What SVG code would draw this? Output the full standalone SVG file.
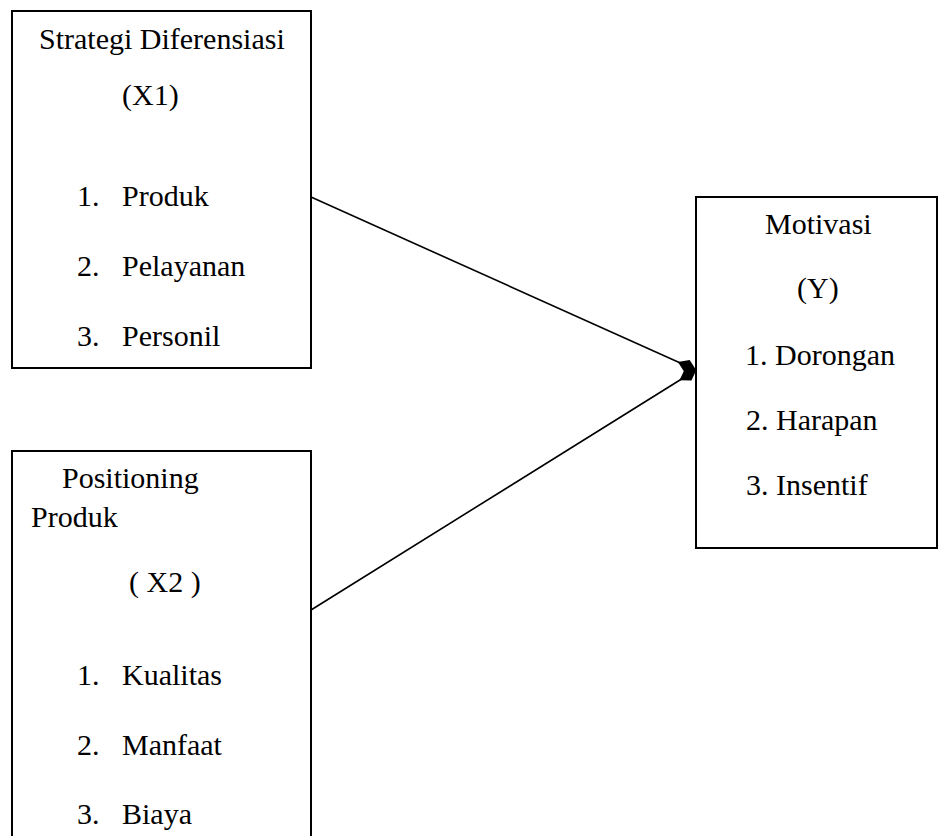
<svg xmlns="http://www.w3.org/2000/svg" width="940" height="836" viewBox="0 0 940 836">
<style>
.box{fill:#fff;stroke:#000;stroke-width:2}
.c{stroke:#000;stroke-width:1.6;fill:none}
.d{fill:#000}
text{font-family:"Liberation Serif","Times New Roman",serif;font-size:30px;fill:#000}
</style>
<defs>
<path id="dia" d="M-10,0 L0,-6.5 L10,0 L0,6.5 Z"/>
</defs>
<rect width="940" height="836" fill="#fff"/>
<g id="connectors">
<line class="c" x1="311" y1="197" x2="687" y2="366"/>
<line class="c" x1="311" y1="610" x2="688" y2="375"/>
<use href="#dia" class="d" transform="translate(687,366) rotate(24.2)"/>
<use href="#dia" class="d" transform="translate(688,375) rotate(-31.9)"/>
</g>
<g id="x1">
<rect class="box" x="12" y="11" width="299" height="357"/>
<text x="39" y="49">Strategi Diferensiasi</text>
<text x="122" y="105">(X1)</text>
<text x="77" y="206">1.</text><text x="122" y="206">Produk</text>
<text x="77" y="276">2.</text><text x="122" y="276">Pelayanan</text>
<text x="77" y="346">3.</text><text x="122" y="346">Personil</text>
</g>
<g id="x2">
<rect class="box" x="12" y="451" width="299" height="400"/>
<text x="62" y="488">Positioning</text>
<text x="31" y="527">Produk</text>
<text x="129" y="592">( X2 )</text>
<text x="77" y="685">1.</text><text x="122" y="685">Kualitas</text>
<text x="77" y="755">2.</text><text x="122" y="755">Manfaat</text>
<text x="77" y="824">3.</text><text x="122" y="824">Biaya</text>
</g>
<g id="y">
<rect class="box" x="696" y="197" width="241" height="351"/>
<text x="765" y="234">Motivasi</text>
<text x="797" y="298">(Y)</text>
<text x="745" y="365">1. Dorongan</text>
<text x="746" y="430">2. Harapan</text>
<text x="746" y="495">3. Insentif</text>
</g>
</svg>
